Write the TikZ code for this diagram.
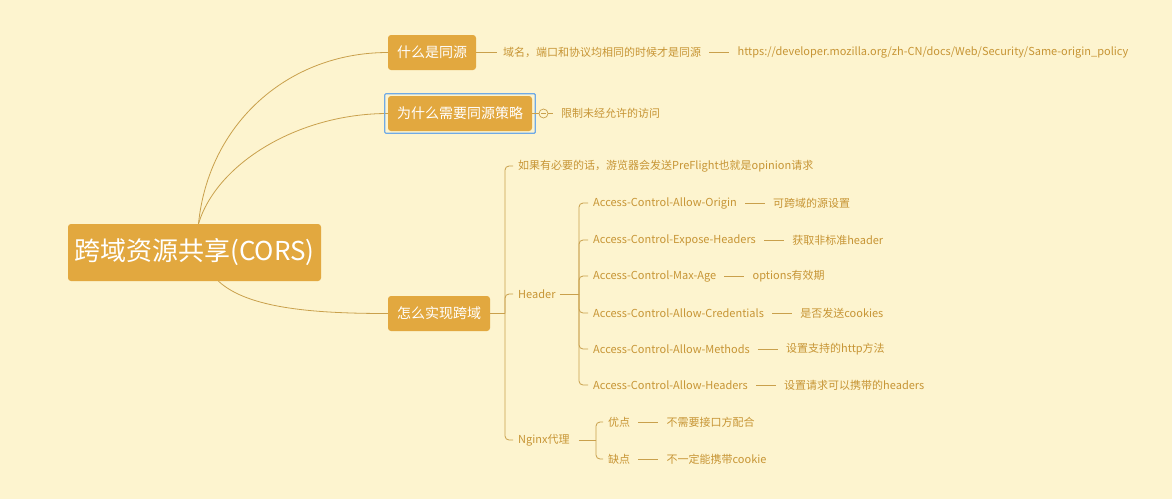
\documentclass[tikz,border=0pt]{standalone}
\usepackage{fontspec}
\setmainfont{Noto Sans CJK SC}
\usetikzlibrary{positioning, calc}

\definecolor{bgcol}{HTML}{FDF4CF}
\definecolor{boxcol}{HTML}{E2A83F}
\definecolor{txtcol}{HTML}{C79535}
\definecolor{linecol}{HTML}{C9A04C}
\definecolor{selcol}{HTML}{6FAAE6}

\tikzset{
    topic/.style={fill=boxcol, text=white, rounded corners=3pt, minimum height=35pt, font=\fontsize{14}{16}\selectfont},
    leaf/.style={text=txtcol, inner xsep=0pt, inner ysep=2pt, anchor=west, font=\fontsize{11}{13}\selectfont},
    link/.style={draw=linecol, line width=0.8pt},
    pairline/.style={link, shorten <=8pt, shorten >=8pt},
    fold/.style={circle, draw=linecol, fill=bgcol, line width=0.7pt, minimum size=9pt, inner sep=0pt},
}

\begin{document}
\begin{tikzpicture}[x=1pt, y=-1pt, node distance=36pt]

\fill[bgcol] (0,0) rectangle (1172,499);
\useasboundingbox (0,0) rectangle (1172,499);

% root and topics
\node[topic, minimum width=253pt, minimum height=57pt, font=\fontsize{26}{30}\selectfont] (root) at (194.5,252.5) {跨域资源共享(CORS)};
\node[topic, minimum width=88pt] (what) at (432,52.5) {什么是同源};
\node[topic, minimum width=144pt] (why) at (460,113.5) {为什么需要同源策略};
\node[topic, minimum width=102pt] (how) at (439,313.5) {怎么实现跨域};

\draw[link] ($(root.north)+(4,0)$) .. controls +(10,-100) and +(-100,0) .. (what.west);
\draw[link] ($(root.north)+(4,0)$) .. controls +(18,-60) and +(-90,0) .. (why.west);
\draw[link] ($(root.south)+(24,0)$) .. controls +(30,28) and +(-70,0) .. (how.west);

% what
\node[leaf] (def) at (503,52.5) {域名，端口和协议均相同的时候才是同源};
\node[leaf, right=of def] (mdn) {https://developer.mozilla.org/zh-CN/docs/Web/Security/Same-origin\_policy};
\draw[link, shorten >=6pt] (what.east) -- (def.west);
\draw[pairline] (def) -- (mdn);

% why
\draw[selcol, line width=1.2pt, rounded corners=1pt] ($(why.north west)+(-3,-2)$) rectangle ($(why.south east)+(3,2)$);
\node[leaf] (limit) at (561,113.5) {限制未经允许的访问};
\node[fold] (collapse) at (543.5,113.5) {};
\draw[link] (why.east) -- (collapse.west);
\draw[link, shorten >=8pt] (collapse.east) -- (limit.west);
\draw[link] ($(collapse.center)+(-2.5,0)$) -- ($(collapse.center)+(2.5,0)$);

% how
\coordinate (howbr) at (505,313.5);
\node[leaf] (pre) at (518,166) {如果有必要的话，游览器会发送PreFlight也就是opinion请求};
\node[leaf] (hdr) at (518,294) {Header};
\node[leaf] (ngx) at (518,440) {Nginx代理};
\draw[link] (how.east) -- (howbr);
\foreach \n in {pre, hdr, ngx}
    \draw[link, rounded corners=4pt, shorten >=5pt] (howbr) |- (\n.west);

% header fields
\coordinate (hdrbr) at (579,294);
\draw[link, shorten <=4pt] (hdr.east) -- (hdrbr);
\foreach \k/\v/\y [count=\i] in {
    Access-Control-Allow-Origin/可跨域的源设置/203,
    Access-Control-Expose-Headers/获取非标准header/240,
    Access-Control-Max-Age/options有效期/276,
    Access-Control-Allow-Credentials/是否发送cookies/313,
    Access-Control-Allow-Methods/设置支持的http方法/349,
    Access-Control-Allow-Headers/设置请求可以携带的headers/385}
{
    \node[leaf] (key\i) at (593,\y) {\k};
    \node[leaf, right=of key\i] (val\i) {\v};
    \draw[link, rounded corners=4pt, shorten >=5pt] (hdrbr) |- (key\i.west);
    \draw[pairline] (key\i) -- (val\i);
}

% nginx
\coordinate (ngxbr) at (596,440);
\draw[link, shorten <=9pt] (ngx.east) -- (ngxbr);
\node[leaf] (pro) at (608,422) {优点};
\node[leaf, right=of pro] (proval) {不需要接口方配合};
\node[leaf] (con) at (608,459) {缺点};
\node[leaf, right=of con] (conval) {不一定能携带cookie};
\foreach \n in {pro, con}
    \draw[link, rounded corners=4pt, shorten >=5pt] (ngxbr) |- (\n.west);
\draw[pairline] (pro) -- (proval);
\draw[pairline] (con) -- (conval);

\end{tikzpicture}
\end{document}
